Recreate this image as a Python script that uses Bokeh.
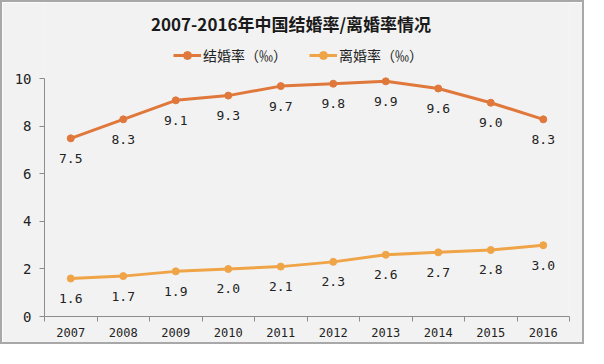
import numpy as np
from bokeh.plotting import figure
from bokeh.core.properties import value
from bokeh.models import (ColumnDataSource, FixedTicker, Legend, LegendItem,
                          Range1d, Label, LabelSet)
from bokeh.embed import file_html
from bokeh.resources import INLINE

years = ["2007", "2008", "2009", "2010", "2011", "2012", "2013", "2014", "2015", "2016"]
marriage = [7.5, 8.3, 9.1, 9.3, 9.7, 9.8, 9.9, 9.6, 9.0, 8.3]
divorce = [1.6, 1.7, 1.9, 2.0, 2.1, 2.3, 2.6, 2.7, 2.8, 3.0]
y_ticks = [0, 2, 4, 6, 8, 10]

title_text = "2007-2016年中国结婚率/离婚率情况"
name_m = "结婚率（‰）"
name_d = "离婚率（‰）"

c_m = "#E0783C"
c_d = "#F0A448"
bg = "#F2F2F2"
mono = "DejaVu Sans Mono"
cjk = "Noto Sans CJK SC"

W, H = 584, 344
BL, BR, BT, BB = 42, 17, 0, 30
FW, FH = W - BL - BR, H - BT - BB
Y_TOP = 13.22  # room above the axis for title and legend

x = np.arange(len(years)) + 0.5
src = ColumnDataSource(dict(
    x=x, m=marriage, d=divorce,
    ml=[f"{v:.1f}" for v in marriage], dl=[f"{v:.1f}" for v in divorce],
))

p = figure(width=W, height=H, output_backend="svg", toolbar_location=None,
           x_range=Range1d(0, len(years)), y_range=Range1d(0, Y_TOP),
           min_border_left=BL, min_border_right=BR, min_border_bottom=BB,
           min_border_top=BT)
p.background_fill_color = bg
p.border_fill_color = bg
p.outline_line_color = None
p.grid.visible = False

# x axis: labels at centres, tick marks between categories
p.xaxis.ticker = FixedTicker(ticks=list(x), minor_ticks=list(range(len(years) + 1)))
p.xaxis.major_label_overrides = {float(xx): y for xx, y in zip(x, years)}
p.xaxis.major_tick_out = 0
p.xaxis.major_tick_in = 0
p.xaxis.minor_tick_out = 5
p.xaxis.minor_tick_in = 0
p.xaxis.axis_line_color = "#8C8C8C"
p.xaxis.minor_tick_line_color = "#8C8C8C"
p.xaxis.major_label_text_font = mono
p.xaxis.major_label_text_font_size = "12px"
p.xaxis.major_label_text_color = "#222222"
p.xaxis.major_label_standoff = 6

p.yaxis.ticker = FixedTicker(ticks=y_ticks)
p.yaxis.bounds = (min(y_ticks), max(y_ticks))
p.yaxis.major_tick_out = 5
p.yaxis.major_tick_in = 0
p.yaxis.minor_tick_line_color = None
p.yaxis.axis_line_color = "#8C8C8C"
p.yaxis.major_tick_line_color = "#8C8C8C"
p.yaxis.major_label_text_font = mono
p.yaxis.major_label_text_font_size = "14px"
p.yaxis.major_label_text_color = "#222222"
p.yaxis.major_label_standoff = 8

lm = p.line("x", "m", source=src, line_color=c_m, line_width=3)
sm = p.scatter("x", "m", source=src, size=7, fill_color=c_m, line_color=c_m)
ld = p.line("x", "d", source=src, line_color=c_d, line_width=3)
sd = p.scatter("x", "d", source=src, size=7, fill_color=c_d, line_color=c_d)

for col, lab in (("m", "ml"), ("d", "dl")):
    p.add_layout(LabelSet(x="x", y=col, text=lab, source=src, y_offset=-20,
                          text_align="center", text_baseline="middle",
                          text_font=value(mono), text_font_size="13px",
                          text_color="#222222"))

legend = Legend(items=[LegendItem(label=name_m, renderers=[lm, sm]),
                       LegendItem(label=name_d, renderers=[ld, sd])],
                orientation="horizontal", location=(129, FH - 63),
                background_fill_alpha=0, border_line_color=None,
                label_text_font=cjk, label_text_font_size="14px",
                label_text_color="#222222", glyph_width=28, spacing=22,
                margin=0, padding=2, label_standoff=2)
p.add_layout(legend, "center")

p.add_layout(Label(x=FW / 2 - 16, y=FH - 21, x_units="screen", y_units="screen",
                   text=title_text, text_align="center", text_baseline="middle",
                   text_font=cjk, text_font_size="17px",
                   text_font_style="bold", text_color="#1A1A1A"))

p.styles = {"border": "2px solid #A8A8A8"}

open("out.html", "w").write(file_html(p, INLINE))
